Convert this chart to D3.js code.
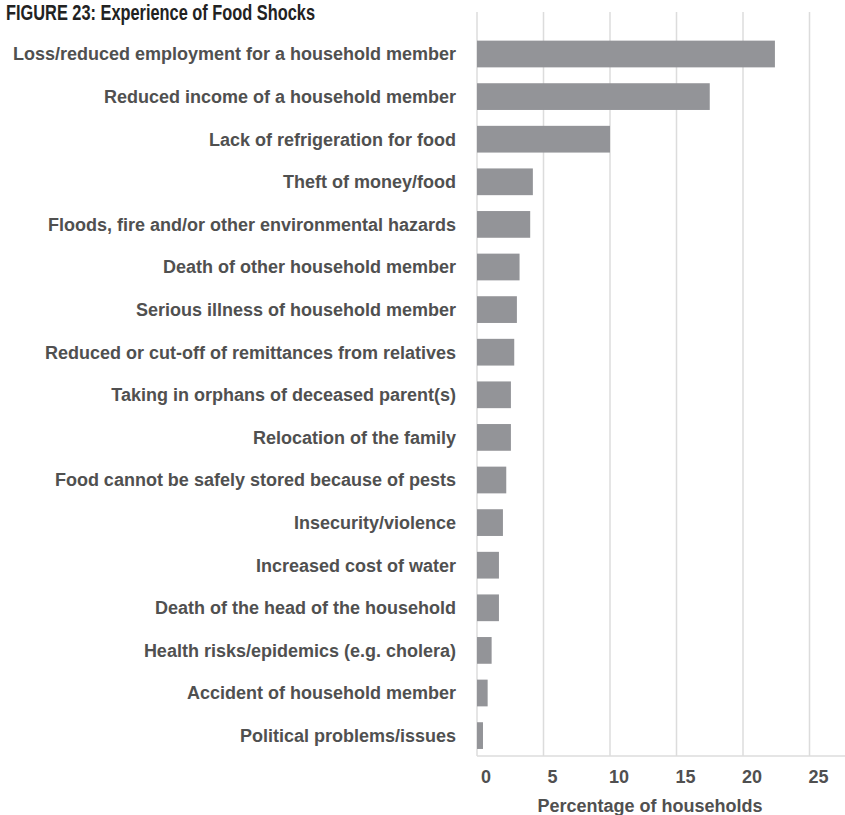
<!DOCTYPE html>
<html><head><meta charset="utf-8">
<script src="https://cdn.jsdelivr.net/npm/d3@7"></script>
<style>
html,body{margin:0;padding:0;background:#fff;overflow:hidden;}
text{font-family:"Liberation Sans",Arial,Helvetica,sans-serif;}
</style></head>
<body><svg id="c" width="845" height="815"></svg>
<script>
const categories = [
  "Loss/reduced employment for a household member",
  "Reduced income of a household member",
  "Lack of refrigeration for food",
  "Theft of money/food",
  "Floods, fire and/or other environmental hazards",
  "Death of other household member",
  "Serious illness of household member",
  "Reduced or cut-off of remittances from relatives",
  "Taking in orphans of deceased parent(s)",
  "Relocation of the family",
  "Food cannot be safely stored because of pests",
  "Insecurity/violence",
  "Increased cost of water",
  "Death of the head of the household",
  "Health risks/epidemics (e.g. cholera)",
  "Accident of household member",
  "Political problems/issues"
];
const values = [22.4, 17.5, 10.0, 4.2, 4.0, 3.2, 3.0, 2.8, 2.55, 2.55, 2.2, 1.95, 1.65, 1.65, 1.1, 0.8, 0.45];
const xTicks = [0, 5, 10, 15, 20, 25];
const title = "FIGURE 23: Experience of Food Shocks";
const xTitle = "Percentage of households";

const svg = d3.select("#c");
const x = d3.scaleLinear().domain([0, 27.5]).range([477, 477 + 27.5 * 13.3]);
const y = d3.scaleBand().domain(categories).range([32.7, 32.7 + 17 * 42.6])
  .paddingInner(0.3725).paddingOuter(0.3725 / 2);

// gridlines
svg.append("g").selectAll("line").data(xTicks).join("line")
  .attr("x1", d => x(d)).attr("x2", d => x(d))
  .attr("y1", 12).attr("y2", 756)
  .attr("stroke", "#dcdcdc").attr("stroke-width", 1.5);

// bottom axis line
svg.append("line").attr("x1", x(0)).attr("x2", 845).attr("y1", 756).attr("y2", 756)
  .attr("stroke", "#dcdcdc").attr("stroke-width", 1.5);

// bars
svg.append("g").selectAll("rect").data(values).join("rect")
  .attr("x", x(0)).attr("y", (d, i) => y(categories[i]))
  .attr("width", d => x(d) - x(0)).attr("height", y.bandwidth())
  .attr("fill", "#939498");

// category labels
svg.append("g").selectAll("text").data(categories).join("text")
  .attr("x", 456).attr("y", d => y(d) + y.bandwidth() / 2)
  .attr("dy", "0.36em").attr("text-anchor", "end")
  .attr("font-size", 18).attr("font-weight", "bold").attr("fill", "#505050")
  .text(d => d);

// tick labels
svg.append("g").selectAll("text").data(xTicks).join("text")
  .attr("x", d => x(d) + 9).attr("y", 777).attr("dy", "0.36em")
  .attr("text-anchor", "middle").attr("font-size", 18).attr("font-weight", "bold").attr("fill", "#505050")
  .text(d => d);

// axis title
svg.append("text").attr("x", 650).attr("y", 812).attr("text-anchor", "middle")
  .attr("font-size", 18).attr("font-weight", "bold").attr("fill", "#505050").text(xTitle);

// title
svg.append("text").attr("x", 6).attr("y", 20)
  .attr("font-family", "'Liberation Sans Narrow','Arial Narrow','Liberation Sans',sans-serif")
  .attr("font-size", 22).attr("font-weight", "bold").attr("fill", "#222")
  .attr("textLength", 309).attr("lengthAdjust", "spacingAndGlyphs")
  .text(title);
</script></body></html>
